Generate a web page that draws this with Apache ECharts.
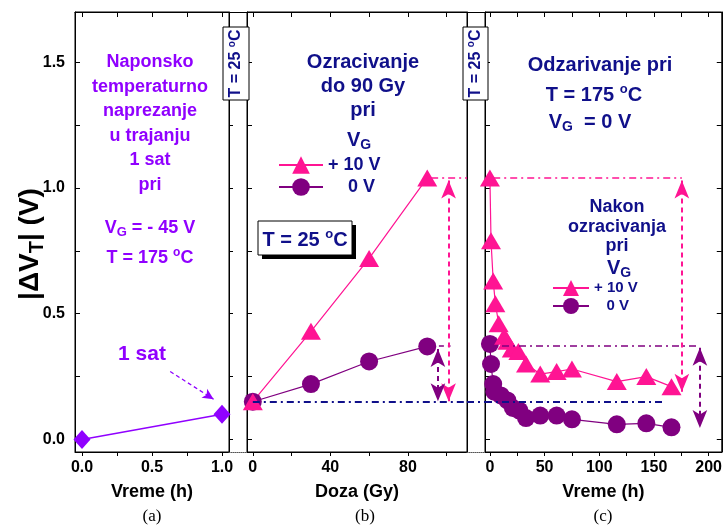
<!DOCTYPE html>
<html>
<head>
<meta charset="utf-8">
<script src="https://cdn.jsdelivr.net/npm/echarts@6/dist/echarts.min.js"></script>
<style>
html, body { margin: 0; padding: 0; background: #fff; }
#chart { width: 725px; height: 529px; }
</style>
</head>
<body>
<div id="chart"></div>
<script>
// (a) napon + temperatura, 1 sat
var stressTime = [0, 1.0];
var stressShift = [0.0, 0.10];

// (b) ozracivanje
var dose = [0, 30, 60, 90];
var irrPlus10 = [0.15, 0.43, 0.72, 1.04];
var irrZero = [0.15, 0.22, 0.31, 0.37];

// (c) odzarivanje
var annTimePlus10 = [0, 1, 3, 5, 8, 13, 16, 20, 26, 33, 46, 61, 75, 116, 143, 166];
var annPlus10 = [1.04, 0.79, 0.63, 0.54, 0.46, 0.41, 0.39, 0.36, 0.35, 0.30, 0.26, 0.27, 0.28, 0.23, 0.25, 0.21];
var annTimeZero = [0, 1, 3, 4, 10, 16, 21, 27, 33, 46, 61, 75, 116, 143, 166];
var annZero = [0.38, 0.30, 0.22, 0.19, 0.175, 0.155, 0.125, 0.115, 0.085, 0.095, 0.095, 0.08, 0.06, 0.064, 0.048];

// tick labels / tick marks
var yLabels = [0, 0.5, 1.0, 1.5];
var yTicks = [0, 0.25, 0.5, 0.75, 1.0, 1.25, 1.5];
var timeALabels = [0, 0.5, 1.0];
var timeATicks = [0, 0.25, 0.5, 0.75, 1.0];
var doseLabels = [0, 40, 80];
var doseTicks = [0, 20, 40, 60, 80, 100];
var timeCLabels = [0, 50, 100, 150, 200];
var timeCTicks = [0, 25, 50, 75, 100, 125, 150, 175, 200];

// pomocne linije (nivoi)
var baseLevel = 0.148;
var topPlus10 = 1.04;
var topZero = 0.372;
var endPlus10 = 0.19;
var endZero = 0.045;

var FONT = '"Liberation Sans", Arial, sans-serif';
var NAVY = '#10108a';
var PINK = '#ff1493';
var PURPLE = '#800080';
var VIOLET = '#9000ff';

var chart = echarts.init(document.getElementById('chart'));

function zip(xs, ys) {
  return xs.map(function (x, i) { return [x, ys[i]]; });
}

function bottomX(grid, min, max, ticks, labels, name, digits) {
  return {
    gridIndex: grid, type: 'value', min: min, max: max, position: 'bottom',
    name: name, nameLocation: 'middle', nameGap: 31,
    nameTextStyle: { fontFamily: FONT, fontWeight: 'bold', fontSize: 18, color: '#000' },
    axisLine: { onZero: false, lineStyle: { color: '#000', width: 1 } },
    axisTick: { inside: false, length: 4, customValues: ticks, lineStyle: { color: '#000' } },
    axisLabel: {
      customValues: labels, margin: 8, fontFamily: FONT, fontWeight: 'bold', fontSize: 16, color: '#000',
      formatter: function (v) { return v.toFixed(digits); }
    },
    splitLine: { show: false }
  };
}

function topX(grid, min, max, ticks) {
  return {
    gridIndex: grid, type: 'value', min: min, max: max, position: 'top',
    axisLine: { onZero: false, lineStyle: { color: '#000', width: 1 } },
    axisTick: { show: !!ticks, inside: true, length: 5, customValues: ticks || [], lineStyle: { color: '#000' } },
    axisLabel: { show: false },
    splitLine: { show: false }
  };
}

function sideY(grid, position, inside, labels, noTicks) {
  return {
    gridIndex: grid, type: 'value', min: -0.05, max: 1.7, position: position,
    axisLine: { onZero: false, lineStyle: { color: '#000', width: 1 } },
    axisTick: { show: !noTicks, inside: inside, length: inside ? 5 : 4, customValues: yTicks, lineStyle: { color: '#000' } },
    axisLabel: labels ? {
      customValues: yLabels, margin: 10, fontFamily: FONT, fontWeight: 'bold', fontSize: 16, color: '#000',
      formatter: function (v) { return v.toFixed(1); }
    } : { show: false },
    splitLine: { show: false }
  };
}

var stripX = function (grid, pos) {
  return {
    gridIndex: grid, type: 'value', min: 0, max: 1, position: pos,
    axisLine: { onZero: false, lineStyle: pos === 'top' ? { color: '#000', width: 1 } : { color: '#555', width: 1, type: 'dotted' } },
    axisTick: { show: false }, axisLabel: { show: false }, splitLine: { show: false }
  };
};

function guide(x1, y1, x2, y2, color, width, dash, arrows) {
  var ls = { color: color, width: width, type: dash };
  return [
    { coord: [x1, y1], symbol: arrows ? 'arrow' : 'none', symbolSize: [11, 18], lineStyle: ls },
    { coord: [x2, y2], symbol: arrows ? 'arrow' : 'none', symbolSize: [11, 18], lineStyle: ls }
  ];
}

function guideSeries(xi, yi, lines) {
  return {
    type: 'line', xAxisIndex: xi, yAxisIndex: yi, data: [], silent: true,
    markLine: { silent: true, animation: false, label: { show: false }, symbol: ['none', 'none'], data: lines }
  };
}

var DASHDOT = [7, 4, 2, 4];
var DASH = [5, 4];

function mark(name, xi, yi, xs, ys, symbol, size, color) {
  return {
    name: name, type: 'line', xAxisIndex: xi, yAxisIndex: yi, data: zip(xs, ys),
    symbol: symbol, symbolSize: size, showSymbol: true,
    itemStyle: { color: color, opacity: 1 }, lineStyle: { color: color, width: 1.2 },
    emphasis: { disabled: true }
  };
}

function label(x, y, text, size, color, extra) {
  var o = {
    type: 'text', x: x, y: y, z: 100,
    style: {
      text: text, fill: color, font: 'bold ' + size + 'px ' + FONT,
      align: 'center', textAlign: 'center', verticalAlign: 'middle', textVerticalAlign: 'middle',
      rich: {
        sub: { font: 'bold ' + Math.round(size * 0.7) + 'px ' + FONT, fill: color, padding: [Math.round(size * 0.5), 0, 0, 0] },
        sup: { font: 'bold ' + Math.round(size * 0.65) + 'px ' + FONT, fill: color, padding: [0, 0, Math.round(size * 0.55), 0] }
      }
    }
  };
  if (extra) { for (var k in extra) { o.style[k] = extra[k]; } }
  return o;
}

function stripBox(x, w) {
  return {
    type: 'group', z: 100, children: [
      { type: 'rect', shape: { x: x, y: 27, width: w, height: 73 }, style: { fill: '#fff', stroke: '#000', lineWidth: 1 }, z: 100 },
      {
        type: 'text', x: x + w / 2, y: 63.5, rotation: Math.PI / 2, z: 101,
        style: {
          text: 'T = 25 {sup|o}C', fill: NAVY, font: 'bold 16px ' + FONT,
          align: 'center', textAlign: 'center', verticalAlign: 'middle', textVerticalAlign: 'middle',
          rich: { sup: { font: 'bold 10px ' + FONT, fill: NAVY, padding: [0, 0, 8, 0] } }
        }
      }
    ]
  };
}

var legendFont = { fontFamily: FONT, fontWeight: 'bold', color: NAVY };

var option = {
  animation: false,
  backgroundColor: '#fff',
  textStyle: { fontFamily: FONT },
  grid: [
    { left: 75, top: 12, width: 154, height: 440, show: true, borderColor: '#000', borderWidth: 1 },
    { left: 247, top: 12, width: 220, height: 440, show: true, borderColor: '#000', borderWidth: 1 },
    { left: 485, top: 12, width: 237, height: 440, show: true, borderColor: '#000', borderWidth: 1 },
    { left: 229, top: 12, width: 18, height: 440 },
    { left: 467, top: 12, width: 18, height: 440 }
  ],
  xAxis: [
    bottomX(0, -0.05, 1.05, timeATicks, timeALabels, 'Vreme (h)', 1),
    topX(0, -0.05, 1.05, timeATicks),
    bottomX(1, -3, 110.5, doseTicks, doseLabels, 'Doza (Gy)', 0),
    topX(1, -3, 110.5, doseTicks),
    bottomX(2, -4.5, 212, timeCTicks, timeCLabels, 'Vreme (h)', 0),
    topX(2, -4.5, 212, timeCTicks),
    stripX(3, 'bottom'), stripX(3, 'top'),
    stripX(4, 'bottom'), stripX(4, 'top')
  ],
  yAxis: [
    sideY(0, 'left', true, true),
    sideY(0, 'right', false, false),
    sideY(1, 'left', true, false),
    sideY(2, 'left', true, false),
    sideY(2, 'right', true, false),
    { gridIndex: 3, type: 'value', min: -0.05, max: 1.7, show: false },
    { gridIndex: 4, type: 'value', min: -0.05, max: 1.7, show: false },
    sideY(1, 'right', true, false, true)
  ],
  legend: [
    {
      data: ['+ 10 V', '0 V'], orient: 'vertical', left: 278, top: 156, padding: 0,
      itemWidth: 44, itemHeight: 22, itemGap: 4, selectedMode: false,
      formatter: function (n) { return n === '0 V' ? '    0 V' : n; },
      textStyle: Object.assign({ fontSize: 18 }, legendFont)
    },
    {
      data: ['+ 10 V', '0 V'], orient: 'vertical', left: 552, top: 280, padding: 0,
      itemWidth: 36, itemHeight: 20, itemGap: 2, selectedMode: false,
      formatter: function (n) { return n === '0 V' ? '   0 V' : n; },
      textStyle: Object.assign({ fontSize: 15 }, legendFont)
    }
  ],
  series: [
    // vodice prvo, markeri preko njih
    guideSeries(2, 2, [
      guide(0, baseLevel, 110.5, baseLevel, NAVY, 2, DASHDOT, false),
      guide(92, topPlus10, 110.5, topPlus10, PINK, 1.5, DASHDOT, false),
      guide(96, topZero, 102, topZero, PURPLE, 1.5, DASH, false),
      guide(101, 1.03, 101, 0.152, PINK, 2, DASH, true),
      guide(95.5, 0.36, 95.5, 0.152, PURPLE, 2, DASH, true)
    ]),
    guideSeries(8, 6, [
      guide(0, baseLevel, 1, baseLevel, NAVY, 2, DASHDOT, false)
    ]),
    guideSeries(4, 3, [
      guide(-4.5, baseLevel, 160, baseLevel, NAVY, 2, DASHDOT, false),
      guide(3, topPlus10, 175.5, topPlus10, PINK, 1.5, DASHDOT, false),
      guide(-4.5, topZero, 192, topZero, PURPLE, 1.5, DASHDOT, false),
      guide(175.5, 1.03, 175.5, endPlus10, PINK, 2, DASH, true),
      guide(192, 0.365, 192, endZero, PURPLE, 2, DASH, true)
    ]),
    {
      type: 'line', xAxisIndex: 0, yAxisIndex: 0, data: zip(stressTime, stressShift),
      symbol: 'diamond', symbolSize: [17, 19], itemStyle: { color: VIOLET }, lineStyle: { color: VIOLET, width: 1.5 },
      emphasis: { disabled: true },
      markLine: {
        silent: true, animation: false, label: { show: false },
        symbol: ['none', 'arrow'], symbolSize: [8, 11],
        lineStyle: { color: VIOLET, width: 1.3, type: [4, 3] },
        data: [[{ coord: [0.63, 0.27] }, { coord: [0.94, 0.16] }]]
      }
    },
    mark('0 V', 2, 2, dose, irrZero, 'circle', 18, PURPLE),
    mark('+ 10 V', 2, 2, dose, irrPlus10, 'triangle', [20, 17], PINK),
    mark('0 V', 4, 3, annTimeZero, annZero, 'circle', 18, PURPLE),
    mark('+ 10 V', 4, 3, annTimePlus10, annPlus10, 'triangle', [20, 17], PINK)
  ],
  graphic: [
    label(150, 123.5, 'Naponsko\ntemperaturno\nnaprezanje\nu trajanju\n1 sat\npri', 18, VIOLET, { lineHeight: 24.6 }),
    label(150, 228, 'V{sub|G} = - 45 V', 18, VIOLET),
    label(150, 258, 'T = 175 {sup|o}C', 18, VIOLET),
    label(142, 354, '1 sat', 21, VIOLET),
    label(363, 86, 'Ozracivanje\ndo 90 Gy\npri', 20, NAVY, { lineHeight: 24 }),
    label(359, 140, 'V{sub|G}', 20, NAVY),
    label(600, 65, 'Odzarivanje pri', 20, NAVY),
    label(594, 95, 'T = 175 {sup|o}C', 20, NAVY),
    label(590, 122, 'V{sub|G}  = 0 V', 20, NAVY),
    label(617, 227, 'Nakon\nozracivanja\npri', 18, NAVY, { lineHeight: 19.5 }),
    label(619, 268, 'V{sub|G}', 20, NAVY),
    {
      type: 'group', z: 100, children: [
        { type: 'rect', shape: { x: 262, y: 225, width: 94, height: 34 }, style: { fill: '#000' }, z: 100 },
        { type: 'rect', shape: { x: 258, y: 221, width: 94, height: 34 }, style: { fill: '#fff', stroke: '#000', lineWidth: 1 }, z: 101 }
      ]
    },
    Object.assign(label(305, 240, 'T = 25 {sup|o}C', 20, NAVY), { z: 102 }),
    stripBox(223, 26),
    stripBox(463, 25),
    Object.assign(label(30, 244, '|\u0394V{sub|T}| (V)', 28, '#000'), { rotation: Math.PI / 2 }),
    { type: 'text', x: 152, y: 517, z: 100, style: { text: '(a)', fill: '#000', font: '17px "Liberation Serif", serif', align: 'center', textAlign: 'center', verticalAlign: 'middle', textVerticalAlign: 'middle' } },
    { type: 'text', x: 365, y: 517, z: 100, style: { text: '(b)', fill: '#000', font: '17px "Liberation Serif", serif', align: 'center', textAlign: 'center', verticalAlign: 'middle', textVerticalAlign: 'middle' } },
    { type: 'text', x: 603, y: 517, z: 100, style: { text: '(c)', fill: '#000', font: '17px "Liberation Serif", serif', align: 'center', textAlign: 'center', verticalAlign: 'middle', textVerticalAlign: 'middle' } }
  ]
};

chart.setOption(option);
</script>
</body>
</html>
